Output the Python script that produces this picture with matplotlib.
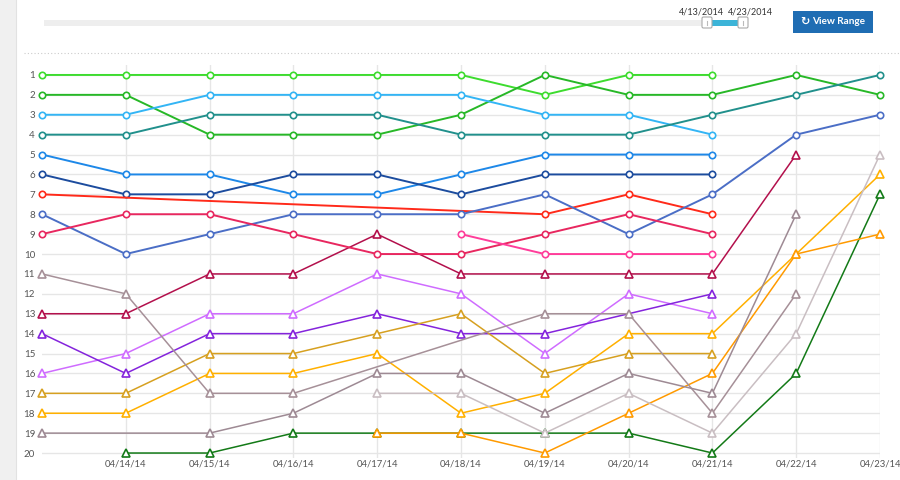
import numpy as np
import matplotlib
matplotlib.use("Agg")
import matplotlib.pyplot as plt
from matplotlib.patches import Rectangle, FancyBboxPatch

plt.rcParams['font.family'] = ['Lato', 'DejaVu Sans']

N = np.nan
dates = ['04/13/14', '04/14/14', '04/15/14', '04/16/14', '04/17/14', '04/18/14',
         '04/19/14', '04/20/14', '04/21/14', '04/22/14', '04/23/14']
ranks = list(range(1, 21))

# circle-marker series (top keywords)
lime = [1, 1, 1, 1, 1, 1, 2, 1, 1, N, N]
green = [2, 2, 4, 4, 4, 3, 1, 2, 2, 1, 2]
sky = [3, 3, 2, 2, 2, 2, 3, 3, 4, N, N]
teal = [4, 4, 3, 3, 3, 4, 4, 4, 3, 2, 1]
azure = [5, 6, 6, 7, 7, 6, 5, 5, 5, N, N]
navy = [6, 7, 7, 6, 6, 7, 6, 6, 6, N, N]
red = [7, N, N, N, N, N, 8, 7, 8, N, N]
slate = [8, 10, 9, 8, 8, 8, 7, 9, 7, 4, 3]
rose = [9, 8, 8, 9, 10, 10, 9, 8, 9, N, N]
pink = [N, N, N, N, N, 9, 10, 10, 10, N, N]

# triangle-marker series
crimson = [13, 13, 11, 11, 9, 11, 11, 11, 11, 5, N]
violet = [16, 15, 13, 13, 11, 12, 15, 12, 13, N, N]
purple = [14, 16, 14, 14, 13, 14, 14, N, 12, N, N]
forest = [N, 20, 20, 19, 19, 19, 19, 19, 20, 16, 7]
gold = [17, 17, 15, 15, 14, 13, 16, 15, 15, N, N]
amber = [18, 18, 16, 16, 15, 18, 17, 14, 14, 10, 6]
orange = [N, N, N, N, 19, 19, 20, 18, 16, 10, 9]
mauve = [11, 12, 17, 17, N, N, 13, 13, 18, 12, N]
taupe = [19, N, 19, 18, 16, 16, 18, 16, 17, 8, N]
silver = [N, N, N, N, 17, 17, 19, 17, 19, 14, 5]

circle_series = [(lime, '#3ddc2e'), (green, '#27b827'), (sky, '#33b5f5'),
                 (teal, '#21908c'), (azure, '#1e88e8'), (navy, '#1c4c9e'),
                 (red, '#ff2a1a'), (slate, '#4b6ec6'), (rose, '#e8275f'),
                 (pink, '#ff3d9a')]
tri_series = [(crimson, '#b3104c'), (violet, '#cf6cff'), (purple, '#8424dc'),
              (forest, '#137a17'), (gold, '#d6a020'), (amber, '#ffb000'),
              (orange, '#ff9a00'), (mauve, '#a69098'), (taupe, '#9e8a94'),
              (silver, '#c9bec2')]

fig = plt.figure(figsize=(9, 4.8), dpi=100)

# ---- page decoration (pixel coords)
deco = fig.add_axes([0, 0, 1, 1], zorder=0)
deco.set_xlim(0, 900)
deco.set_ylim(480, 0)
deco.axis("off")
deco.add_patch(Rectangle((0, 0), 16, 480, color='#f0f0f0', lw=0))
deco.plot([16, 16], [0, 480], color='#e2e2e2', lw=0.8)
deco.add_patch(Rectangle((44, 20), 660, 6, color='#eeeeee', lw=0))
deco.add_patch(Rectangle((712, 20), 26, 6, color='#3cb4d8', lw=0))
for hx in (702, 738):
    deco.add_patch(FancyBboxPatch((hx, 17), 10, 11, boxstyle="round,pad=0,rounding_size=1.5",
                                  fc='white', ec='#aaaaaa', lw=0.8))
    deco.plot([hx + 5, hx + 5], [20.5, 24.5], color='#bbbbbb', lw=0.8)
deco.text(701, 12, '4/13/2014', fontsize=6.5, color='#333333', ha='center', va='center')
deco.text(750, 12, '4/23/2014', fontsize=6.5, color='#333333', ha='center', va='center')
deco.add_patch(Rectangle((793, 11), 80, 22, color='#1f6db3', lw=0))
deco.text(805, 22, '\u21bb', fontsize=8, color='white', ha='center', va='center',
          family='DejaVu Sans', fontweight='bold')
deco.text(839, 22, 'View Range', fontsize=7.2, color='white', ha='center', va='center',
          fontweight='bold')
deco.plot([24, 900], [53, 53], color='#cccccc', lw=0.8, ls=(0, (1, 2)))

# ---- rank chart
ax = fig.add_axes([42 / 900, 1 - 458 / 480, 838 / 900, 393 / 480], zorder=1)
ax.patch.set_alpha(0)
x = np.arange(len(dates))
ax.set_xlim(0, len(dates) - 1)
ax.set_ylim(20.25, 0.5)
for s in ax.spines.values():
    s.set_visible(False)
for r in ranks:
    ax.axhline(r, color='#e6e6e6', lw=1, zorder=0)
for xi in x[1:]:
    ax.axvline(xi, color='#e6e6e6', lw=1, zorder=0)

ax.set_yticks(ranks)
ax.set_yticklabels([str(r) for r in ranks])
ax.set_xticks(x[1:])
ax.set_xticklabels(dates[1:])
ax.tick_params(axis='y', length=0, pad=5, labelsize=7, labelcolor='#555555')
ax.tick_params(axis='x', length=0, pad=1, labelsize=6.8, labelcolor='#555555')


def draw(vals, color, marker, ms, lw):
    v = np.array(vals, dtype=float)
    m = ~np.isnan(v)
    ax.plot(x[m], v[m], color=color, lw=lw, marker=marker, ms=ms,
            mfc='white', mec=color, mew=1.2, clip_on=False, zorder=3)


for vals, c in tri_series:
    draw(vals, c, '^', 5.5, 1.1)
for vals, c in circle_series:
    draw(vals, c, 'o', 4.6, 1.4)

plt.savefig("out.png", dpi=100)
